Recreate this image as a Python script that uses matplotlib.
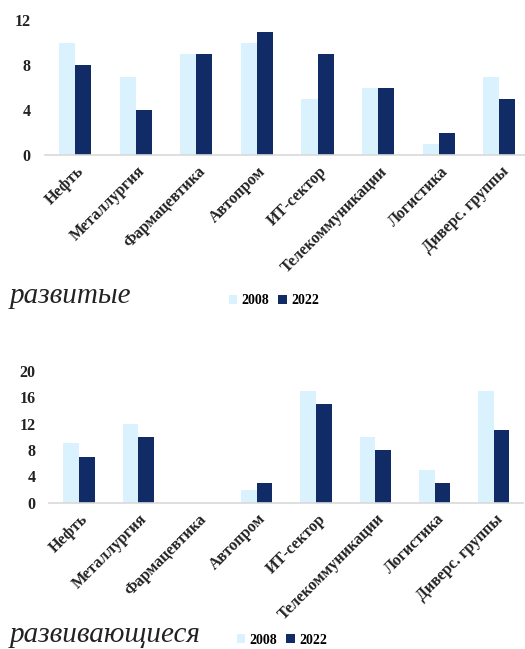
import numpy as np
from matplotlib import pyplot as plt

# categories (same for both panels)
categories = ['Нефть', 'Металлургия', 'Фармацевтика', 'Автопром', 'ИТ-сектор',
              'Телекоммуникации', 'Логистика', 'Диверс. группы']
years = ['2008', '2022']

# developed countries
dev_2008 = [10, 7, 9, 10, 5, 6, 1, 7]
dev_2022 = [8, 4, 9, 11, 9, 6, 2, 5]

# developing countries
dvl_2008 = [9, 12, 0, 2, 17, 10, 5, 17]
dvl_2022 = [7, 10, 0, 3, 15, 8, 3, 11]

c_light = '#DAF2FD'
c_dark = '#112B67'
serif = 'Liberation Serif'

fig = plt.figure(figsize=(5.25, 6.49), dpi=100)
H = 649.0


def panel(rect, v08, v22, ymax, title, title_y, leg_x, leg_y):
    ax = fig.add_axes(rect)
    x = np.arange(len(categories))
    w = 0.265
    ax.bar(x - w / 2, v08, w, color=c_light, label=years[0])
    ax.bar(x + w / 2, v22, w, color=c_dark, label=years[1])
    ax.set_xlim(-0.5, len(categories) - 0.5)
    ax.set_ylim(0, ymax)
    ax.set_yticks(np.arange(0, ymax + 1, 4))
    for s in ['top', 'right', 'left']:
        ax.spines[s].set_visible(False)
    ax.spines['bottom'].set_color('#D9D9D9')
    ax.spines['bottom'].set_linewidth(1.2)
    ax.tick_params(axis='both', length=0)
    ax.tick_params(axis='y', pad=10)
    ax.set_xticks(x + 0.02)
    ax.set_xticklabels(categories, rotation=45, ha='right', rotation_mode='anchor',
                       fontsize=11.5, fontweight='bold', family=serif, color='#222222')
    ax.tick_params(axis='x', pad=6)
    for lb in ax.get_yticklabels():
        lb.set_family(serif)
        lb.set_fontweight('bold')
        lb.set_fontsize(11.5)
        lb.set_color('#222222')
    fig.text(10 / 525, 1 - title_y / H, title, family=serif, style='italic',
             fontsize=21, va='center', ha='left', color='#222222')
    fig.legend(handles=ax.patches[:1] + ax.patches[len(categories):len(categories) + 1],
               labels=years, loc='center left',
               bbox_to_anchor=(leg_x / 525, 1 - leg_y / H), ncol=2, frameon=False,
               handlelength=0.6, handleheight=0.6, handletextpad=0.3, columnspacing=0.7,
               prop={'family': serif, 'weight': 'bold', 'size': 10})
    return ax


panel([44.7 / 525, 1 - 155 / H, 485 / 525, 134.5 / H], dev_2008, dev_2022, 12,
      'развитые', 296, 216, 301)
panel([49.4 / 525, 1 - 502.7 / H, 474 / 525, 131.8 / H], dvl_2008, dvl_2022, 20,
      'развивающиеся', 635, 224, 640)

plt.savefig('out.png', dpi=100)
